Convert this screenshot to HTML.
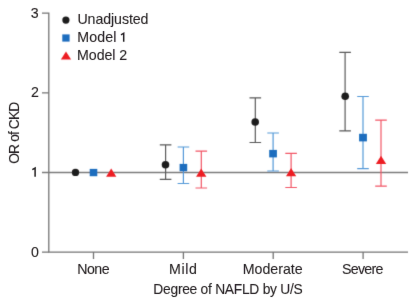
<!DOCTYPE html>
<html><head><meta charset="utf-8"><style>
html,body{margin:0;padding:0;background:#fff;width:416px;height:306px;overflow:hidden}
svg{display:block;will-change:transform}
text{font-family:"Liberation Sans",sans-serif;fill:#231f20;stroke:#231f20;stroke-width:0.1px}
</style></head><body>
<svg width="416" height="306" viewBox="0 0 416 306">
<defs><filter id="bl" x="-5%" y="-5%" width="110%" height="110%"><feConvolveMatrix order="3" kernelMatrix="0.0113 0.0838 0.0113 0.0838 0.6193 0.0838 0.0113 0.0838 0.0113" divisor="1" edgeMode="none" preserveAlpha="false"/></filter><filter id="bt" x="-5%" y="-5%" width="110%" height="110%"><feConvolveMatrix order="3" kernelMatrix="0.0016 0.0371 0.0016 0.0371 0.8450 0.0371 0.0016 0.0371 0.0016" divisor="1" edgeMode="none" preserveAlpha="false"/></filter></defs>
<rect width="416" height="306" fill="#fff"/>
<g filter="url(#bl)">
<g stroke="#747474" stroke-width="1.3" fill="none">
<path d="M42 13.1H48.8V252.1H408"/>
<path d="M42 92.8H48.8M42 252.1H48.8"/>
<path d="M93.5 252.1V259M183.4 252.1V259M273.2 252.1V259M363.1 252.1V259"/>
</g>
<path d="M42 172.5H408" stroke="#7a7a7a" stroke-width="1.5" fill="none"/>
<circle cx="65.9" cy="20.1" r="3.6" fill="#1f1d1e"/>
<rect x="62.3" y="34.4" width="7.3" height="7.2" fill="#1b6dbe"/>
<path d="M66 51.6L71.1 59.6H60.9Z" fill="#ed1c24"/>
<g stroke="#5a5a5a" stroke-width="1.2" fill="none">
<path d="M165.6 144.9V179.4M159.8 144.9H171.4M159.8 179.4H171.4"/>
<path d="M255.3 97.8V142.5M249.5 97.8H261.1M249.5 142.5H261.1"/>
<path d="M345.1 52.4V130.8M339.3 52.4H350.9M339.3 130.8H350.9"/>
</g>
<g stroke="#5499d8" stroke-width="1.2" fill="none">
<path d="M183.4 147V183.5M177.6 147H189.2M177.6 183.5H189.2"/>
<path d="M273.1 133V171M267.3 133H278.9M267.3 171H278.9"/>
<path d="M363 96.5V168.7M357.2 96.5H368.8M357.2 168.7H368.8"/>
</g>
<g stroke="#f25666" stroke-width="1.2" fill="none">
<path d="M201.3 151.2V188M195.5 151.2H207.1M195.5 188H207.1"/>
<path d="M291.1 153.4V187.5M285.3 153.4H296.9M285.3 187.5H296.9"/>
<path d="M381 120.1V186.2M375.2 120.1H386.8M375.2 186.2H386.8"/>
</g>
<g fill="#1f1d1e">
<circle cx="75.5" cy="172.4" r="3.7"/>
<circle cx="165.5" cy="164.7" r="3.8"/>
<circle cx="255.2" cy="122" r="3.8"/>
<circle cx="345.2" cy="96.2" r="3.8"/>
</g>
<g fill="#1b6dbe">
<rect x="89.7" y="168.9" width="7.6" height="7.3"/>
<rect x="179.6" y="163.9" width="7.6" height="7.4"/>
<rect x="269.2" y="149.9" width="7.7" height="7.5"/>
<rect x="359.1" y="133.8" width="7.8" height="7.6"/>
</g>
<g fill="#ed1c24">
<path d="M111.2 168.4L116.3 176.7H106.1Z"/>
<path d="M201.2 168.4L206.4 176.8H196Z"/>
<path d="M291.1 167.9L296.2 176.3H286Z"/>
<path d="M381 155.7L386.2 164H375.9Z"/>
</g>
</g>
<g filter="url(#bt)">
<path d="M35.1 176.8V168L32.3 169.6" stroke="#231f20" stroke-width="1.5" fill="none"/>
<path d="M123.7 41.8V33.2L121 34.8" stroke="#231f20" stroke-width="1.5" fill="none"/>
<text x="38.70" y="18.00" font-size="14.2" text-anchor="end">3</text>
<text x="38.85" y="97.00" font-size="14.2" text-anchor="end">2</text>
<text x="38.80" y="257.00" font-size="14.2" text-anchor="end">0</text>
<text x="93.18" y="274.00" font-size="14.2" text-anchor="middle" letter-spacing="-0.507">None</text>
<text x="183.29" y="274.00" font-size="14.2" text-anchor="middle" letter-spacing="0.590">Mild</text>
<text x="272.71" y="274.00" font-size="14.2" text-anchor="middle" letter-spacing="-0.024">Moderate</text>
<text x="362.41" y="274.00" font-size="14.2" text-anchor="middle" letter-spacing="-0.728">Severe</text>
<text x="227.92" y="294.00" font-size="13.8" text-anchor="middle" letter-spacing="-0.263">Degree of NAFLD by U/S</text>
<text x="18.80" y="133.21" font-size="13.8" text-anchor="middle" letter-spacing="-0.880" transform="rotate(-90 18.80 133.21)">OR of CKD</text>
<text x="77.43" y="24.00" font-size="14.2" letter-spacing="-0.077">Unadjusted</text>
<text x="77.17" y="42.00" font-size="14.2" letter-spacing="0.151">Model</text>
<text x="77.12" y="60.00" font-size="14.2" letter-spacing="-0.072">Model 2</text>
</g>
</svg>
</body></html>
